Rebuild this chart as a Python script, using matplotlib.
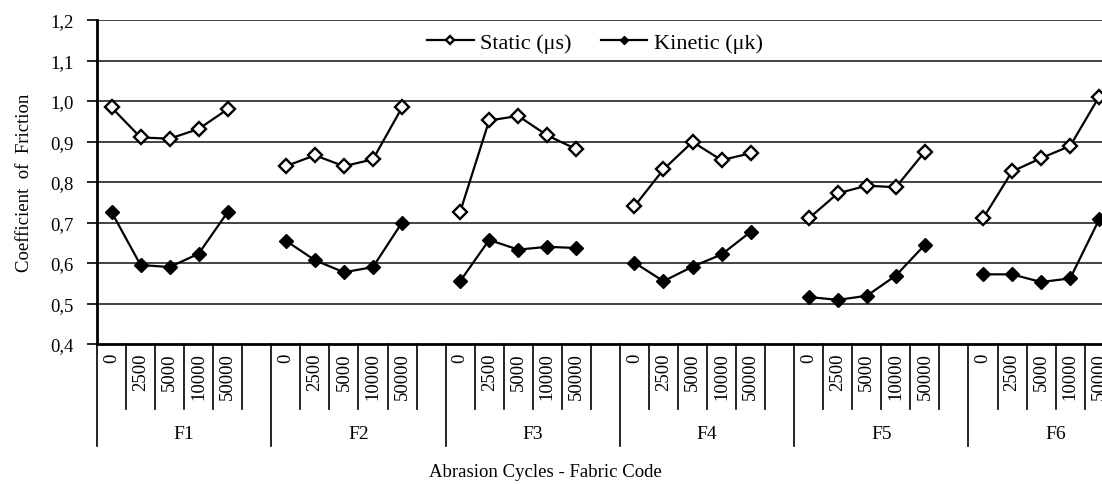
import numpy as np
import matplotlib
matplotlib.use("Agg")
import matplotlib.pyplot as plt

plt.rcParams['font.family'] = ['Liberation Serif', 'DejaVu Serif']

fabrics = ["F1", "F2", "F3", "F4", "F5", "F6"]
cycles = ["0", "2500", "5000", "10000", "50000"]

static = [
    [0.984, 0.910, 0.907, 0.931, 0.980],
    [0.839, 0.866, 0.839, 0.856, 0.984],
    [0.726, 0.952, 0.963, 0.915, 0.881],
    [0.740, 0.831, 0.899, 0.854, 0.871],
    [0.710, 0.772, 0.791, 0.787, 0.875],
    [0.710, 0.826, 0.859, 0.889, 1.011],
]
kinetic = [
    [0.726, 0.595, 0.590, 0.623, 0.726],
    [0.655, 0.607, 0.577, 0.590, 0.700],
    [0.555, 0.657, 0.633, 0.640, 0.637],
    [0.601, 0.555, 0.591, 0.621, 0.677],
    [0.516, 0.509, 0.519, 0.569, 0.645],
    [0.572, 0.572, 0.553, 0.562, 0.708],
]
yticks = [0.4, 0.5, 0.6, 0.7, 0.8, 0.9, 1.0, 1.1, 1.2]
ytick_labels = ["0,4", "0,5", "0,6", "0,7", "0,8", "0,9", "1,0", "1,1", "1,2"]

W, H = 1102, 485
fig = plt.figure(figsize=(W / 100, H / 100), dpi=100)
slot = 29.05
nslots = 6 * (len(cycles) + 1)
ax = fig.add_axes([97 / W, (H - 345) / H, nslots * slot / W, 324 / H])

step = len(cycles) + 1
for g in range(len(fabrics)):
    x = g * step + np.arange(len(cycles)) + 0.5
    ax.plot(x, static[g], "-D", color="black", lw=1.6, ms=7, mfc="white", mec="black", mew=1.7,
            label="Static (\u03bcs)" if g == 0 else None, zorder=3)
    ax.plot(x, kinetic[g], "-D", color="black", lw=1.6, ms=7.5, mfc="black", mec="black",
            label="Kinetic (\u03bck)" if g == 0 else None, zorder=3)

ax.set_xlim(0, nslots)
ax.set_ylim(0.4, 1.2)
ax.set_yticks(yticks)
ax.set_yticklabels(ytick_labels)
for y in yticks[1:]:
    ax.axhline(y, color="#222222", lw=1.2, zorder=1)

ax.spines["top"].set_visible(False)
ax.spines["right"].set_visible(False)
ax.spines["left"].set_linewidth(2)
ax.spines["bottom"].set_linewidth(2)

xt = [g * step + j + 0.5 for g in range(len(fabrics)) for j in range(len(cycles))]
ax.set_xticks(xt)
ax.set_xticklabels(cycles * len(fabrics), rotation=90, fontsize=13.5)
ax.tick_params(axis="x", length=0, pad=6)
ax.tick_params(axis="y", length=7, width=1.2, labelsize=13.5, pad=10)

trans = ax.get_xaxis_transform()
for b in range(nslots + 1):
    low = -102 / 324 if b % step == 0 else -65 / 324
    ax.plot([b, b], [0, low], color="black", lw=1.2, transform=trans, clip_on=False)
for g, name in enumerate(fabrics):
    ax.text(g * step + step / 2, -90 / 324, name, transform=trans, ha="center", va="center",
            fontsize=14)

ax.set_ylabel("Coefficient  of  Friction", fontsize=13.5, labelpad=12)
fig.text(545 / W, 1 - 473 / H, "Abrasion Cycles - Fabric Code", ha="center", va="center",
         fontsize=13.5)

ax_w = nslots * slot
leg = ax.legend(loc="upper center", bbox_to_anchor=((595 - 97) / ax_w, 1.01),
                ncol=2, frameon=False, fontsize=16, markerscale=0.6, handlelength=2.1,
                columnspacing=1.3, handletextpad=0.3, borderaxespad=0.3)

fig.savefig("out.png", dpi=100)
